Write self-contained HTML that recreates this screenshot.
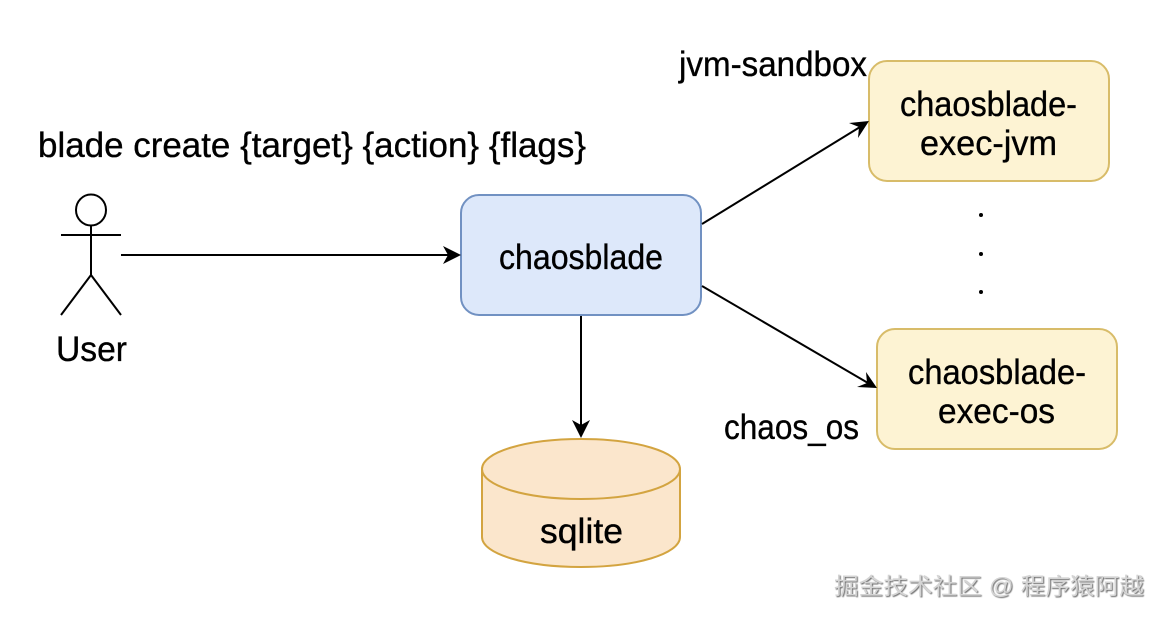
<!DOCTYPE html>
<html lang="en">
<head>
<meta charset="utf-8">
<title>chaosblade diagram</title>
<style>
html,body{margin:0;padding:0;background:#fff;width:1162px;height:618px;overflow:hidden}
svg{display:block}
text{font-family:"Liberation Sans","Noto Sans CJK SC",sans-serif;font-size:35px;fill:#000;stroke:#000;stroke-width:.35px}
.wm{font-size:23px;fill:#d4d4d4;stroke:none;filter:drop-shadow(1px 1px 0.4px #6a6a6a)}
</style>
</head>
<body>
<svg width="1162" height="618" viewBox="0 0 1162 618" xmlns="http://www.w3.org/2000/svg">
<rect width="1162" height="618" fill="#fff"/>

<text x="38" y="157" textLength="548" lengthAdjust="spacingAndGlyphs">blade create {target} {action} {flags}</text>
<text x="679" y="76" textLength="188" lengthAdjust="spacingAndGlyphs">jvm-sandbox</text>
<text x="724" y="439" textLength="135" lengthAdjust="spacingAndGlyphs">chaos_os</text>
<text x="56" y="361" textLength="71" lengthAdjust="spacingAndGlyphs">User</text>

<!-- actor -->
<g fill="none" stroke="#000" stroke-width="2">
<ellipse cx="91" cy="210" rx="15" ry="15.5"/>
<path d="M91 225.500V275M61 235H121M91 275L61 315M91 275L121 315"/>
</g>

<!-- boxes -->
<rect x="461" y="195" width="240" height="120" rx="18" fill="#dde8fa" stroke="#7191c2" stroke-width="2"/>
<rect x="869" y="61" width="240" height="120" rx="18" fill="#fdf3d3" stroke="#d8bc69" stroke-width="2"/>
<rect x="877" y="329" width="240" height="120" rx="18" fill="#fdf3d3" stroke="#d8bc69" stroke-width="2"/>

<text x="499" y="269" textLength="164" lengthAdjust="spacingAndGlyphs">chaosblade</text>
<text x="900" y="116" textLength="177" lengthAdjust="spacingAndGlyphs">chaosblade-</text>
<text x="920" y="155" textLength="137" lengthAdjust="spacingAndGlyphs">exec-jvm</text>
<text x="908" y="384" textLength="178" lengthAdjust="spacingAndGlyphs">chaosblade-</text>
<text x="938" y="423" textLength="117" lengthAdjust="spacingAndGlyphs">exec-os</text>

<!-- cylinder -->
<path d="M482 469C482 452 526 439 581 439C636 439 680 452 680 469V537C680 554 636 567 581 567C526 567 482 554 482 537Z" fill="#fbe6cc" stroke="#d3a440" stroke-width="2"/>
<path d="M482 469C482 486 526 499 581 499C636 499 680 486 680 469" fill="none" stroke="#d3a440" stroke-width="2"/>
<text x="540" y="543" textLength="83" lengthAdjust="spacingAndGlyphs">sqlite</text>

<!-- connectors -->
<g fill="none" stroke="#000" stroke-width="2">
<path d="M121 255H450"/>
<path d="M581 316V428"/>
<path d="M702 224L860 127"/>
<path d="M702 286L868 383"/>
</g>
<g fill="#000">
<path d="M461 255L443 264L448 255L443 246Z"/>
<path d="M581 438L572 420L581 425L590 420Z"/>
<path d="M869 121L858 138L859 127L849 123Z"/>
<path d="M877 388L857 387L867 383L866 372Z"/>
</g>

<!-- dots -->
<g fill="#000">
<circle cx="981" cy="215" r="2"/>
<circle cx="981" cy="254" r="2"/>
<circle cx="981" cy="292" r="2"/>
</g>

<!-- watermark -->
<text class="wm" x="834" y="594" textLength="310" lengthAdjust="spacingAndGlyphs">掘金技术社区 @ 程序猿阿越</text>
</svg>
</body>
</html>
